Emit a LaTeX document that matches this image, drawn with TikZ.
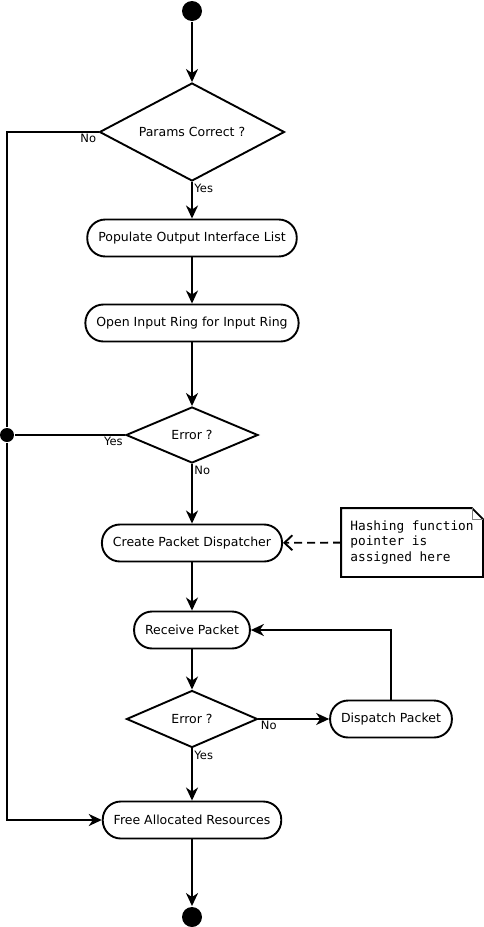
\documentclass[tikz,border=0pt]{standalone}
\usepackage{fontspec}
\setmainfont{DejaVu Sans}
\newfontfamily\notefont{DejaVu Sans Mono}
\usetikzlibrary{shapes.geometric,arrows.meta}

\begin{document}
\begin{tikzpicture}[x=1pt,y=-1pt,->,>={Stealth[length=13pt,width=12pt,inset=4pt]},line width=1.9pt,
        act/.style={draw,rectangle,rounded corners=18pt,minimum height=37pt,inner xsep=11pt,font=\fontsize{12.5}{15}\selectfont},
        dec/.style={draw,diamond,aspect=1.9,inner sep=0pt,font=\fontsize{12.5}{15}\selectfont},
        dot/.style={circle,fill,inner sep=0pt,minimum size=20pt},
        lbl/.style={font=\fontsize{11.5}{13}\selectfont,inner sep=1.5pt},
        note/.style={align=left,inner sep=0pt,minimum width=140pt,minimum height=67pt,font=\notefont\fontsize{12.8}{15.6}\selectfont}]
                \useasboundingbox (0,0) rectangle (484,927);
                \node[dot] (start) at (192,11) {};
                \node[dec,minimum width=185pt,minimum height=98pt] (params) at (192,132) {Params Correct ?};
                \node[act] (populate) at (192,238) {Populate Output Interface List};
                \node[act] (openring) at (192,323) {Open Input Ring for Input Ring};
                \node[dec,minimum width=132pt,minimum height=56pt] (err1) at (192,435) {Error ?};
                \node[dot,minimum size=14pt] (fork) at (7,435) {};
                \node[act] (create) at (192,543) {Create Packet Dispatcher};
                \node[note] (note) at (412,542.5) {Hashing function\\pointer is\\assigned here};
                \node[act] (receive) at (192,630) {Receive Packet};
                \node[dec,minimum width=131pt,minimum height=57pt] (err2) at (192,719) {Error ?};
                \node[act] (dispatch) at (391,719) {Dispatch Packet};
                \node[act] (free) at (192,820) {Free Allocated Resources};
                \node[dot] (stop) at (192,917) {};
                % note with folded corner
                \draw[-] (note.south west) -- (note.north west) -- ([xshift=-11pt]note.north east)
                    -- ([yshift=-11pt]note.north east) -- (note.south east) -- cycle;
                \draw[-,line width=0.8pt,gray] ([xshift=-11pt]note.north east) |- ([yshift=-11pt]note.north east);
                \path
                    (start) edge (params)
                    (params) edge node[lbl,pos=0,anchor=north west] {Yes} (populate)
                    (populate) edge (openring)
                    (openring) edge (err1)
                    (err1) edge node[lbl,pos=0,anchor=north west] {No} (create)
                    (create) edge (receive)
                    (receive) edge (err2)
                    (err2) edge node[lbl,pos=0,anchor=north west] {Yes} (free)
                    (free) edge (stop);
                \draw[-] (params.west) -| (fork) node[lbl,pos=0,anchor=north east] {No};
                \draw[-] (err1.west) -- (fork) node[lbl,pos=0,anchor=north east] {Yes};
                \draw (fork) |- (free.west);
                \draw (err2.east) -- (dispatch) node[lbl,pos=0,anchor=north west] {No};
                \draw (dispatch) |- (receive);
                \draw[dashed,dash pattern=on 8pt off 5pt,-{Straight Barb[length=8pt,width=15pt]}] (note) -- (create);
            \end{tikzpicture}
\end{document}
